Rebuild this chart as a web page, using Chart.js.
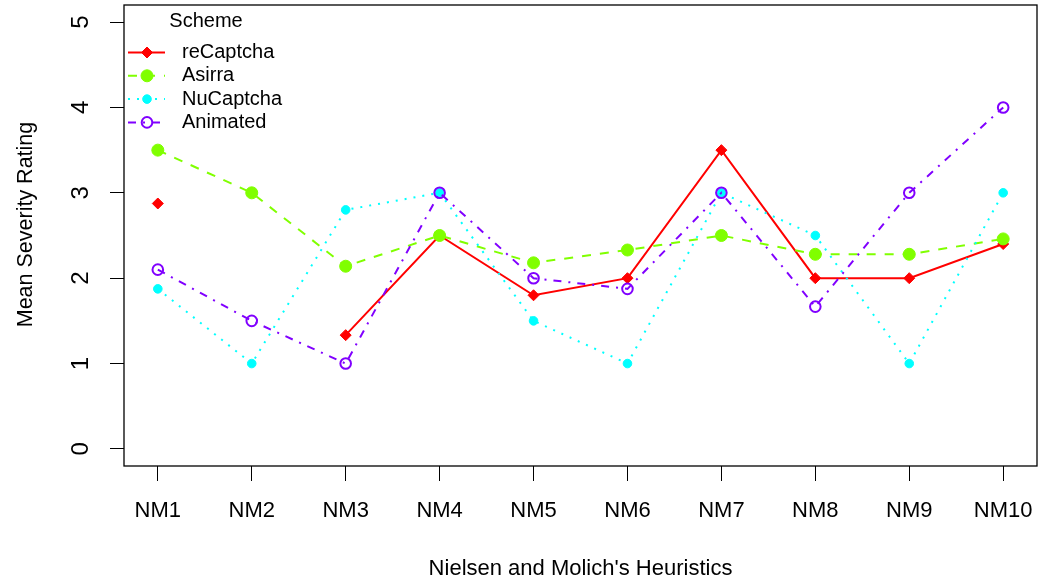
<!DOCTYPE html>
<html>
<head>
<meta charset="utf-8">
<script src="https://cdn.jsdelivr.net/npm/chart.js@4/dist/chart.umd.min.js"></script>
<style>
html,body{margin:0;padding:0;background:#fff}
#wrap{width:1039px;height:582px;position:relative}
</style>
</head>
<body>
<div id="wrap"><canvas id="chart"></canvas></div>
<script>
// ── data ──
const categories=['NM1','NM2','NM3','NM4','NM5','NM6','NM7','NM8','NM9','NM10'];
const reCaptcha=[2.875,null,1.333,2.5,1.8,2.0,3.5,2.0,2.0,2.4];
const asirra=[3.5,3.0,2.14,2.5,2.18,2.33,2.5,2.28,2.28,2.46];
const nuCaptcha=[1.875,1.0,2.8,3.0,1.5,1.0,3.0,2.5,1.0,3.0];
const animated=[2.1,1.5,1.0,3.0,2.0,1.875,3.0,1.667,3.0,4.0];
const yTicks=[0,1,2,3,4,5];
const legendTitle='Scheme';
const xTitle="Nielsen and Molich's Heuristics";
const yTitle='Mean Severity Rating';

const FONT='"Liberation Sans", Arial, Helvetica, sans-serif';
const pts=arr=>arr.map((y,i)=>({x:i+1,y}));

function ds(label,data,color,dash,style,radius,fill,order){
  return {label,data:pts(data),borderColor:color,borderWidth:2,borderDash:dash,
    pointStyle:style,pointRadius:radius,pointHoverRadius:radius,
    pointBackgroundColor:fill,pointBorderColor:color,pointBorderWidth:fill==='transparent'?2:1,
    tension:0,spanGaps:false,order};
}
const datasets=[
  ds('reCaptcha',reCaptcha,'#FF0000',[],'rectRot',5.5,'#FF0000',4),
  ds('Asirra',asirra,'#80FF00',[9,9],'circle',6,'#80FF00',3),
  ds('NuCaptcha',nuCaptcha,'#00FFFF',[2,7],'circle',4.3,'#00FFFF',2),
  ds('Animated',animated,'#8000FF',[8,7,2,7],'circle',5.3,'transparent',1)
];

// box, y title, legend in R style
const rStyle={
  id:'rStyle',
  afterDraw(chart){
    const c=chart.ctx, a=chart.chartArea;
    c.save();
    c.strokeStyle='#000'; c.lineWidth=1.3;
    c.strokeRect(a.left,a.top,a.right-a.left,a.bottom-a.top);
    // y title
    c.fillStyle='#000'; c.font='21.5px '+FONT;
    c.textAlign='center'; c.textBaseline='middle';
    c.translate(26,224.5); c.rotate(-Math.PI/2); c.fillText(yTitle,0,0);
    c.restore();
    // legend
    c.save();
    c.fillStyle='#000'; c.textBaseline='middle';
    c.font='20px '+FONT; c.textAlign='center';
    c.fillText(legendTitle,206,21);
    c.textAlign='left';
    chart.data.datasets.forEach((d,i)=>{
      const y=52.5+i*23.3;
      c.save();
      c.strokeStyle=d.borderColor; c.lineWidth=d.borderWidth; c.setLineDash(d.borderDash);
      c.beginPath(); c.moveTo(128,y); c.lineTo(165,y); c.stroke();
      c.restore();
      c.save();
      c.fillStyle=d.pointBackgroundColor; c.strokeStyle=d.pointBorderColor; c.lineWidth=d.pointBorderWidth;
      Chart.helpers.drawPoint(c,{pointStyle:d.pointStyle,radius:d.pointRadius,borderWidth:d.pointBorderWidth},147,y);
      c.restore();
      c.fillText(d.label,182,y);
    });
    c.restore();
  }
};

new Chart(document.getElementById('chart'),{
  type:'line',
  data:{datasets},
  options:{
    responsive:true,maintainAspectRatio:false,animation:false,
    layout:{autoPadding:false,padding:{top:5,right:2,left:0,bottom:0}},
    plugins:{legend:{display:false},tooltip:{enabled:false}},
    scales:{
      x:{type:'linear',min:0.64,max:10.36,
        afterBuildTicks:s=>{s.ticks=categories.map((_,i)=>({value:i+1}));},
        afterFit:s=>{s.height=116;s.paddingLeft=0;s.paddingRight=0;},
        ticks:{color:'#000',font:{family:FONT,size:22},padding:17,maxRotation:0,autoSkip:false,
          callback:v=>categories[v-1]||''},
        grid:{drawOnChartArea:false,drawTicks:true,tickLength:15,tickColor:'#000',tickWidth:1},
        border:{display:false},
        title:{display:true,text:xTitle,color:'#000',font:{family:FONT,size:22},padding:{top:0,bottom:0}}
      },
      y:{type:'linear',min:-0.2,max:5.2,
        afterBuildTicks:s=>{s.ticks=yTicks.map(v=>({value:v}));},
        afterFit:s=>{s.width=124;s.paddingTop=0;s.paddingBottom=0;},
        ticks:{color:'#000',font:{family:FONT,size:24},padding:22,minRotation:90,maxRotation:90,crossAlign:'center',
          callback:v=>String(v)},
        grid:{drawOnChartArea:false,drawTicks:true,tickLength:14,tickColor:'#000',tickWidth:1},
        border:{display:false}
      }
    }
  },
  plugins:[rStyle]
});
</script>
</body>
</html>
